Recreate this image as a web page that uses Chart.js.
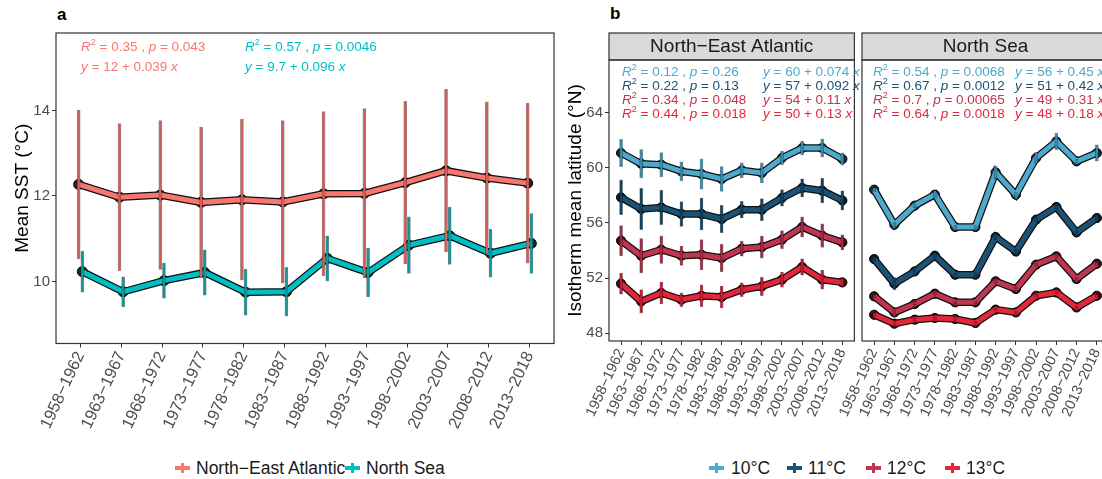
<!DOCTYPE html>
<html>
<head>
<meta charset="utf-8">
<script src="https://cdn.jsdelivr.net/npm/chart.js@4.4.1/dist/chart.umd.min.js"></script>
<style>
  body { margin: 0; width: 1102px; height: 479px; overflow: hidden; background: #fff; position: relative;
         font-family: "Liberation Sans", Arial, sans-serif; }
  canvas { position: absolute; top: 0; }
  .tag { position: absolute; font-weight: bold; font-size: 17px; color: #000; }
  .ann { position: absolute; font-size: 13.5px; white-space: nowrap; }
  .ann sup { font-size: 9px; line-height: 0; position: relative; top: -1px; }
  .leg { position: absolute; top: 457px; font-size: 17.5px; line-height: 22px; color: #1a1a1a; white-space: nowrap; }
  .key { position: absolute; top: 463px; width: 15px; height: 10px; }
  .key:before { content: ''; position: absolute; left: 0; top: 3px; width: 15px; height: 4px; background: var(--c); }
  .key:after { content: ''; position: absolute; left: 6px; top: 0; width: 3px; height: 10px; background: var(--c); }
</style>
</head>
<body>
<div class="tag" style="left:57px;top:5px">a</div>
<div class="tag" style="left:610px;top:4px">b</div>
<canvas id="sst" width="560" height="440" style="left:0px"></canvas>
<canvas id="nea" width="300" height="440" style="left:560px"></canvas>
<canvas id="ns" width="320" height="440" style="left:800px"></canvas>
<script>
const periods = ['1958−1962', '1963−1967', '1968−1972', '1973−1977', '1978−1982', '1983−1987',
                 '1988−1992', '1993−1997', '1998−2002', '2003−2007', '2008−2012', '2013−2018'];

// panel a: mean SST and spread
const sstNEA   = [12.27, 11.97, 12.02, 11.85, 11.91, 11.86, 12.05, 12.06, 12.31, 12.59, 12.42, 12.30];
const sstNEAsd = [1.74, 1.72, 1.74, 1.76, 1.88, 1.90, 1.92, 1.98, 1.90, 1.90, 1.78, 1.87];
const sstNS    = [10.23, 9.76, 10.02, 10.21, 9.75, 9.76, 10.54, 10.21, 10.85, 11.07, 10.66, 10.89];
const sstNSsd  = [0.48, 0.35, 0.41, 0.53, 0.54, 0.57, 0.53, 0.57, 0.66, 0.67, 0.56, 0.70];

// panel b: isotherm mean latitude, North-East Atlantic
const nea10 = [61.09, 60.31, 60.24, 59.75, 59.56, 59.20, 59.83, 59.64, 60.73, 61.45, 61.45, 60.65];
const nea10sd = [1.0, 1.03, 0.87, 0.7, 1.1, 0.9, 0.55, 0.73, 0.5, 0.5, 0.65, 0.45];
const nea11 = [57.86, 57.02, 57.13, 56.65, 56.65, 56.29, 56.97, 56.97, 57.82, 58.55, 58.35, 57.64];
const nea11sd = [1.27, 1.5, 1.25, 0.9, 1.16, 1.0, 0.6, 0.8, 0.6, 0.66, 0.9, 0.7];
const nea12 = [54.71, 53.62, 54.06, 53.62, 53.69, 53.45, 54.13, 54.25, 54.79, 55.71, 55.08, 54.59];
const nea12sd = [1.1, 1.25, 1.0, 0.7, 1.1, 1.0, 0.55, 0.8, 0.65, 0.73, 0.85, 0.55];
const nea13 = [51.59, 50.30, 50.91, 50.42, 50.71, 50.62, 51.15, 51.39, 51.88, 52.80, 51.88, 51.68];
const nea13sd = [0.77, 0.85, 0.8, 0.5, 0.8, 0.8, 0.5, 0.67, 0.55, 0.6, 0.7, 0.3];

// panel b: North Sea
const ns10 = [58.42, 55.88, 57.26, 58.06, 55.71, 55.71, 59.68, 58.06, 60.73, 61.93, 60.48, 61.09];
const ns10sd = [0.15, 0.15, 0.15, 0.3, 0.1, 0.1, 0.45, 0.15, 0.4, 0.6, 0.15, 0.6];
const ns11 = [53.38, 51.59, 52.48, 53.62, 52.24, 52.24, 54.98, 53.93, 56.24, 57.16, 55.32, 56.36];
const ns11sd = [0.15, 0.45, 0.3, 0.2, 0.1, 0.15, 0.2, 0.15, 0.15, 0.2, 0.15, 0.2];
const ns12 = [50.67, 49.50, 50.11, 50.86, 50.23, 50.23, 51.76, 51.20, 52.97, 53.57, 51.93, 53.04];
const ns12sd = [0.1, 0.3, 0.2, 0.1, 0.1, 0.1, 0.15, 0.15, 0.1, 0.15, 0.1, 0.1];
const ns13 = [49.33, 48.68, 48.97, 49.09, 49.02, 48.73, 49.70, 49.50, 50.71, 50.95, 49.86, 50.71];
const ns13sd = [0.1, 0.15, 0.1, 0.1, 0.1, 0.1, 0.1, 0.1, 0.1, 0.1, 0.1, 0.1];

// regression labels
const sstR2 = ['0.35', '0.57'], sstP = ['0.043', '0.0046'], sstB0 = ['12', '9.7'], sstB1 = ['0.039', '0.096'];
const neaR2 = ['0.12', '0.22', '0.34', '0.44'], neaP = ['0.26', '0.13', '0.048', '0.018'];
const neaB0 = ['60', '57', '54', '50'], neaB1 = ['0.074', '0.092', '0.11', '0.13'];
const nsR2 = ['0.54', '0.67', '0.7', '0.64'], nsP = ['0.0068', '0.0012', '0.00065', '0.0018'];
const nsB0 = ['56', '51', '49', '48'], nsB1 = ['0.45', '0.42', '0.31', '0.18'];

const regions = ['North−East Atlantic', 'North Sea'];
const isotherms = ['10°C', '11°C', '12°C', '13°C'];

const regionCols = ['#F8766D', '#00BFC4'];
const regionBars = ['#CC625B', '#17939A'];
const regionDots = ['#3b1e1c', '#0b2f31'];
const isoCols = ['#4DA9CE', '#1B5276', '#C0354F', '#E3263A'];
const isoBars = ['#3A89A8', '#15405A', '#9C2A44', '#BC1F30'];
const isoDots = ['#15303b', '#0b1c28', '#3a1019', '#420b12'];

Chart.defaults.font.family = '"Liberation Sans", Arial, sans-serif';

// box round the panel, and the grey facet strip
const panelBox = {
  id: 'panelBox',
  afterDraw(chart, args, opts) {
    const { ctx, chartArea: a } = chart;
    ctx.save();
    if (opts.strip) {
      ctx.fillStyle = '#d9d9d9';
      ctx.fillRect(a.left, a.top - 27, a.right - a.left, 27);
      ctx.strokeStyle = '#333';
      ctx.lineWidth = 1.2;
      ctx.strokeRect(a.left, a.top - 27, a.right - a.left, 27);
      ctx.fillStyle = '#1a1a1a';
      ctx.font = '19px "Liberation Sans", Arial, sans-serif';
      ctx.textAlign = 'center';
      ctx.textBaseline = 'middle';
      ctx.fillText(opts.strip, (a.left + a.right) / 2, a.top - 13);
    }
    ctx.strokeStyle = opts.color || '#333';
    ctx.lineWidth = 1.2;
    ctx.strokeRect(a.left, a.top, a.right - a.left, a.bottom - a.top);
    ctx.restore();
  }
};
Chart.register(panelBox);

function series(mean, sd, col, bar, dot, dodge, r) {
  const pts = mean.map((m, i) => ({ x: i + dodge, y: m }));
  return [
    { type: 'bar', data: mean.map((m, i) => ({ x: i + dodge, y: [m - sd[i], m + sd[i]] })),
      backgroundColor: bar, borderColor: 'rgba(0,0,0,0.45)', borderWidth: 0.6, borderSkipped: false,
      barThickness: 3, grouped: false, order: 0 },
    { type: 'line', data: pts, borderColor: '#111', borderWidth: 7.5, pointRadius: r,
      pointBackgroundColor: dot, pointBorderColor: '#000', pointBorderWidth: 1, tension: 0, order: 2 },
    { type: 'line', data: pts, borderColor: col, borderWidth: 5, pointRadius: 0, tension: 0, order: 1 }
  ];
}

function makeChart(id, datasets, cfg) {
  return new Chart(document.getElementById(id), {
    type: 'line',
    data: { datasets },
    options: {
      responsive: false,
      animation: false,
      layout: { padding: cfg.padding },
      plugins: { legend: { display: false }, tooltip: { enabled: false }, panelBox: { strip: cfg.strip } },
      scales: {
        x: {
          type: 'linear', min: -0.6, max: 11.6, offset: false,
          afterBuildTicks: s => { s.ticks = periods.map((p, i) => ({ value: i })); },
          afterFit: s => { s.height = 90; s.paddingLeft = 0; s.paddingRight = 0; },
          grid: { drawOnChartArea: false, offset: false, tickLength: 4, color: '#333', lineWidth: 1 },
          border: { display: false },
          ticks: { autoSkip: false, minRotation: 65, maxRotation: 65, padding: 1, color: '#4d4d4d',
                   font: { size: cfg.xFont }, callback: v => periods[Math.round(v)] }
        },
        y: {
          min: cfg.ymin, max: cfg.ymax, display: cfg.showY,
          afterBuildTicks: s => { s.ticks = cfg.yTicks.map(v => ({ value: v })); },
          afterFit: s => { if (cfg.showY) s.width = cfg.yWidth; },
          grid: { drawOnChartArea: false, tickLength: 4, color: '#333', lineWidth: 1 },
          border: { display: false },
          ticks: { padding: 2, color: '#4d4d4d', font: { size: 15 } },
          title: { display: !!cfg.yTitle, text: cfg.yTitle, color: '#000', font: { size: 19 },
                   padding: { top: cfg.titlePad, bottom: 0 } }
        }
      }
    }
  });
}

makeChart('sst', [
  ...series(sstNEA, sstNEAsd, regionCols[0], regionBars[0], regionDots[0], -0.045, 5),
  ...series(sstNS, sstNSsd, regionCols[1], regionBars[1], regionDots[1], 0.045, 5)
], { padding: { left: 0, top: 33, right: 5, bottom: 6.5 }, ymin: 8.55, ymax: 15.81, yTicks: [10, 12, 14],
     showY: true, yWidth: 56, yTitle: 'Mean SST (°C)', titlePad: 11.6, xFont: 16.5 });

const neaSets = [[nea10, nea10sd], [nea11, nea11sd], [nea12, nea12sd], [nea13, nea13sd]];
const nsSets = [[ns10, ns10sd], [ns11, ns11sd], [ns12, ns12sd], [ns13, ns13sd]];

makeChart('nea', neaSets.flatMap(([m, s], k) => series(m, s, isoCols[k], isoBars[k], isoDots[k], 0, 4.6)),
  { padding: { left: 0, top: 60, right: 4, bottom: 9 }, ymin: 47.42, ymax: 67.85, yTicks: [48, 52, 56, 60, 64],
    showY: true, yWidth: 49, yTitle: 'Isotherm mean latitude (°N)', titlePad: 4.6, xFont: 14.5, strip: regions[0] });

makeChart('ns', nsSets.flatMap(([m, s], k) => series(m, s, isoCols[k], isoBars[k], isoDots[k], 0, 4.6)),
  { padding: { left: 62, top: 60, right: 11, bottom: 9 }, ymin: 47.42, ymax: 67.85, yTicks: [48, 52, 56, 60, 64],
    showY: false, xFont: 14.5, strip: regions[1] });

// regression annotations
function addText(html, left, top, color, lh) {
  const d = document.createElement('div');
  d.className = 'ann';
  d.style.left = left + 'px';
  d.style.top = top + 'px';
  d.style.color = color;
  d.style.lineHeight = lh + 'px';
  d.innerHTML = html;
  document.body.appendChild(d);
}
const r2 = (r, p) => `<i>R</i><sup>2</sup> = ${r} , <i>p</i> = ${p}`;
const eq = (b0, b1) => `<i>y</i> = ${b0} + ${b1} <i>x</i>`;

[81, 245].forEach((x, k) => addText(r2(sstR2[k], sstP[k]) + '<br>' + eq(sstB0[k], sstB1[k]), x, 37, regionCols[k], 20));
isotherms.forEach((t, k) => {
  const top = 64 + k * 14;
  addText(r2(neaR2[k], neaP[k]), 622, top, isoCols[k], 15);
  addText(eq(neaB0[k], neaB1[k]), 763, top, isoCols[k], 15);
  addText(r2(nsR2[k], nsP[k]), 873, top, isoCols[k], 15);
  addText(eq(nsB0[k], nsB1[k]), 1015, top, isoCols[k], 15);
});

// legends
function addKey(label, color, keyX, textX) {
  const k = document.createElement('div');
  k.className = 'key';
  k.style.left = (keyX - 7.5) + 'px';
  k.style.setProperty('--c', color);
  document.body.appendChild(k);
  const t = document.createElement('div');
  t.className = 'leg';
  t.style.left = textX + 'px';
  t.textContent = label;
  document.body.appendChild(t);
}
[[182, 196], [352, 366]].forEach(([kx, tx], k) => addKey(regions[k], regionCols[k], kx, tx));
[[716, 731], [794, 808], [873, 887], [952, 966]].forEach(([kx, tx], k) => addKey(isotherms[k], isoCols[k], kx, tx));
</script>
</body>
</html>
